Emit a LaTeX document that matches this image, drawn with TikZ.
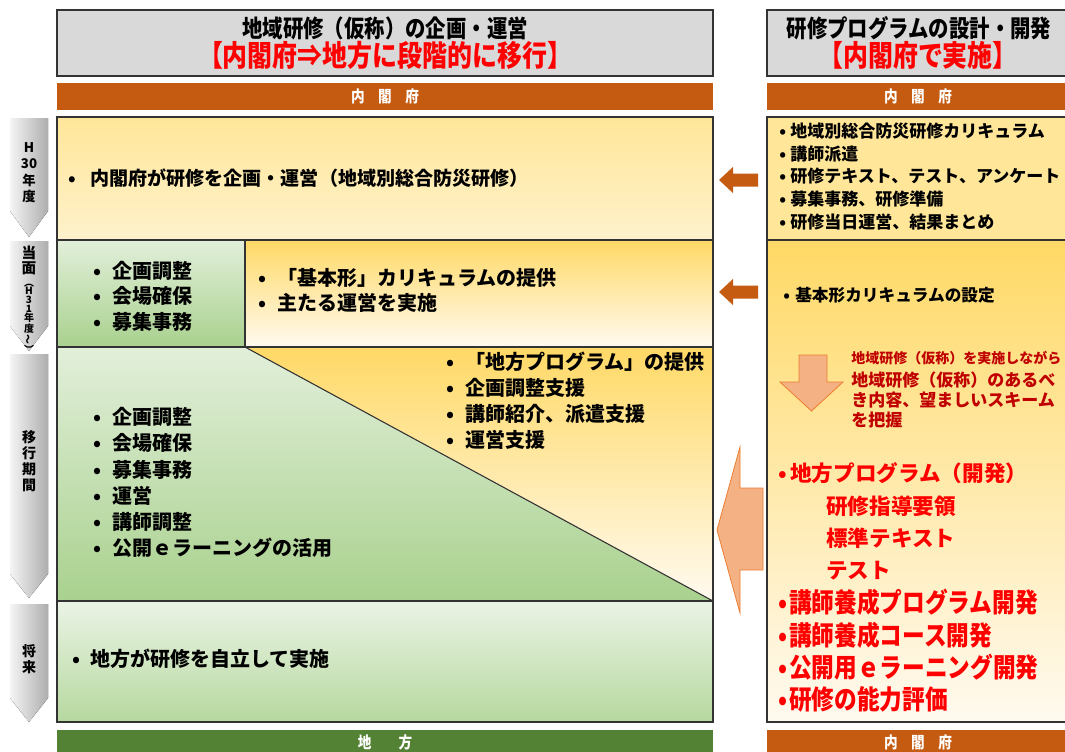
\documentclass[tikz,border=0pt]{standalone}
\usepackage{fontspec}
\setmainfont{Noto Sans CJK JP}
\newfontfamily\narrowjp{Noto Sans CJK JP}[FakeStretch=0.85]
\usetikzlibrary{positioning}

\definecolor{headgray}{HTML}{D9D9D9}
\definecolor{cabinet}{HTML}{C55A11}
\definecolor{region}{HTML}{548235}
\definecolor{yeltop}{HTML}{FFE699}
\definecolor{yelbot}{HTML}{FFF2CC}
\definecolor{goldtop}{HTML}{FFD966}
\definecolor{goldbot}{HTML}{FFFAF0}
\definecolor{grntop}{HTML}{E2EFDA}
\definecolor{grnbot}{HTML}{A9D18E}
\definecolor{salmon}{HTML}{F4B183}
\definecolor{salmonline}{HTML}{ED7D31}
\definecolor{darkred}{HTML}{C00000}

\newcommand{\bl}[1]{\makebox[#1][l]{•}}

\begin{document}
\begin{tikzpicture}[x=0.75pt, y=-0.75pt,
    headbox/.style={draw=black!80, line width=1.5pt, fill=headgray, inner sep=0pt,
                    minimum height=49.5pt},
    bar/.style={text=white, inner sep=0pt, font=\narrowjp\bfseries\fontsize{12}{13}\selectfont},
    cell/.style={draw=black!80, line width=0.8pt},
    period/.style={left color=black!4, right color=black!32},
    periodtext/.style={inner sep=0pt, align=center, font=\bfseries\fontsize{10}{12.3}\selectfont},
    item/.style={inner sep=0pt, anchor=west, align=left, font=\bfseries\fontsize{15}{19.5}\selectfont},
    blockarrow/.style={fill=salmon, draw=salmonline, line width=0.6pt},
    pointer/.style={fill=cabinet}
]
    \useasboundingbox (0,0) rectangle (1065,751);

    % Headers
    \node[headbox, minimum width=492pt] (headL) at (385,43) {};
    \node[headbox, minimum width=226.5pt] (headR) at (918,43) {};
    \node[inner sep=0pt, font=\narrowjp\bfseries\fontsize{18}{20}\selectfont] (titleL) at (385,28) {地域研修（仮称）の企画・運営};
    \node[inner sep=0pt, text=red, font=\narrowjp\bfseries\fontsize{22}{24}\selectfont] (subL) at (385,55) {【内閣府⇒地方に段階的に移行】};
    \node[inner sep=0pt, font=\narrowjp\bfseries\fontsize{18}{20}\selectfont] (titleR) at (919,28) {研修プログラムの設計・開発};
    \node[inner sep=0pt, text=red, font=\narrowjp\bfseries\fontsize{22}{24}\selectfont] (subR) at (918,55) {【内閣府で実施】};

    % Bars
    \node[bar, fill=cabinet, minimum width=492pt, minimum height=20.25pt] (barL) at (385,96.5) {内　閣　府};
    \node[bar, fill=cabinet, minimum width=226.5pt, minimum height=20.25pt] (barR) at (918,96.5) {内　閣　府};
    \node[bar, fill=region, minimum width=492pt, minimum height=18.75pt] (barB) at (385,742.5) {地　　方};
    \node[bar, fill=cabinet, minimum width=226.5pt, minimum height=18.75pt] (barBR) at (918,742.5) {内　閣　府};

    % Periods
    \fill[period] (10,118) -- (48,118) -- (48,211) -- (29,237) -- (10,211) -- cycle;
    \fill[period] (10,241) -- (48,241) -- (48,326) -- (29,351) -- (10,326) -- cycle;
    \fill[period] (10,354) -- (48,354) -- (48,574) -- (29,598) -- (10,574) -- cycle;
    \fill[period] (10,604) -- (48,604) -- (48,698) -- (29,722) -- (10,698) -- cycle;
    \node[periodtext] (p30) at (29,172.5) {H\\30\\年\\度};
    \node[periodtext, font=\bfseries\fontsize{11}{11.3}\selectfont] (pnow) at (29,260.5) {当\\面};
    \node[periodtext, font=\bfseries\fontsize{7.5}{6.6}\selectfont] (pnowsub) at (29,318.5) {︵\\H\\3\\1\\年\\度\\ \rotatebox{90}{〜}\\︶};
    \node[periodtext, font=\bfseries\fontsize{10.5}{12}\selectfont] (pmove) at (29,461) {移\\行\\期\\間};
    \node[periodtext, font=\bfseries\fontsize{10.5}{12}\selectfont] (pfuture) at (29,659) {将\\来};

    % Left cells
    \draw[cell, top color=yeltop, bottom color=yelbot] (57,117) rectangle (713,240);
    \draw[cell, top color=grntop, bottom color=grnbot] (57,240) rectangle (245,347);
    \draw[cell, top color=goldtop, bottom color=goldbot] (245,240) rectangle (713,347);
    \fill[top color=grntop, bottom color=grnbot] (57,347) -- (245,347) -- (713,601) -- (57,601) -- cycle;
    \fill[top color=goldtop, bottom color=goldbot] (245,347) -- (713,347) -- (713,601) -- cycle;
    \draw[cell] (57,347) rectangle (713,601);
    \draw[cell] (245,347) -- (713,601);
    \draw[cell, top color=grntop!70!white, bottom color=grnbot!85!white] (57,601) rectangle (713,722);

    % Right cells
    \draw[cell, fill=yeltop] (767,117) rectangle (1070,240);
    \draw[cell, top color=goldtop, bottom color=goldbot] (767,240) rectangle (1070,722);

    % Arrows
    \fill[pointer] (719,180) -- (733,167) -- (733,173.5) -- (758,173.5) -- (758,186.5) -- (733,186.5) -- (733,193) -- cycle;
    \fill[pointer] (719,292) -- (733,279) -- (733,285.5) -- (758,285.5) -- (758,298.5) -- (733,298.5) -- (733,305) -- cycle;
    \draw[blockarrow] (717,530) -- (740,447) -- (740,488) -- (763,488) -- (763,570) -- (740,570) -- (740,613) -- cycle;
    \draw[blockarrow] (799,355) -- (827,355) -- (827,382) -- (843,382) -- (811.5,411) -- (780,382) -- (799,382) -- cycle;

    % Left texts
    \node[item, font=\bfseries\fontsize{14.3}{17}\selectfont] (h30) at (68,178) {\bl{16.5pt}内閣府が研修を企画・運営（地域別総合防災研修）};
    \node[item, font=\bfseries\fontsize{15}{19.1}\selectfont] (nowL) at (93,296) {\bl{14.25pt}企画調整\\\bl{14.25pt}会場確保\\\bl{14.25pt}募集事務};
    \node[item, font=\bfseries\fontsize{15}{18.75}\selectfont] (nowR) at (258,290.5) {\bl{14.25pt}「基本形」カリキュラムの提供\\\bl{14.25pt}主たる運営を実施};
    \node[item] (moveR) at (446,401) {\bl{14.25pt}「地方プログラム」の提供\\\bl{14.25pt}企画調整支援\\\bl{14.25pt}講師紹介、派遣支援\\\bl{14.25pt}運営支援};
    \node[item, font=\bfseries\fontsize{15}{19.65}\selectfont] (moveL) at (93,482.5) {\bl{14.25pt}企画調整\\\bl{14.25pt}会場確保\\\bl{14.25pt}募集事務\\\bl{14.25pt}運営\\\bl{14.25pt}講師調整\\\bl{14.25pt}公開ｅラーニングの活用};
    \node[item] (future) at (72,659) {\bl{13.5pt}地方が研修を自立して実施};

    % Right texts
    \node[item, font=\bfseries\fontsize{12.75}{17}\selectfont] (rtop) at (779,176.5) {\bl{8.25pt}地域別総合防災研修カリキュラム\\\bl{8.25pt}講師派遣\\\bl{8.25pt}研修テキスト、テスト、アンケート\\\bl{8.25pt}募集事務、研修準備\\\bl{8.25pt}研修当日運営、結果まとめ};
    \node[item, font=\bfseries\fontsize{12.5}{15}\selectfont] (rbasic) at (783,295) {\bl{9pt}基本形カリキュラムの設定};
    \node[item, text=darkred, font=\bfseries\fontsize{10.5}{12}\selectfont] (rnote) at (851,358) {地域研修（仮称）を実施しながら};
    \node[item, text=darkred, font=\bfseries\fontsize{12.75}{15}\selectfont] (rgoal) at (851,400) {地域研修（仮称）のあるべ\\き内容、望ましいスキーム\\を把握};
    \node[item, text=red, font=\bfseries\fontsize{16.2}{24.2}\selectfont] (rprog) at (778,521.5) {\bl{9pt}地方プログラム（開発）\\\hspace*{36pt}研修指導要領\\\hspace*{36pt}標準テキスト\\\hspace*{36pt}テスト};
    \node[item, text=red, font=\narrowjp\bfseries\fontsize{20}{24.2}\selectfont] (rdev) at (778,651) {\bl{8.25pt}講師養成プログラム開発\\\bl{8.25pt}講師養成コース開発\\\bl{8.25pt}公開用ｅラーニング開発\\\bl{8.25pt}研修の能力評価};

\end{tikzpicture}
\end{document}
